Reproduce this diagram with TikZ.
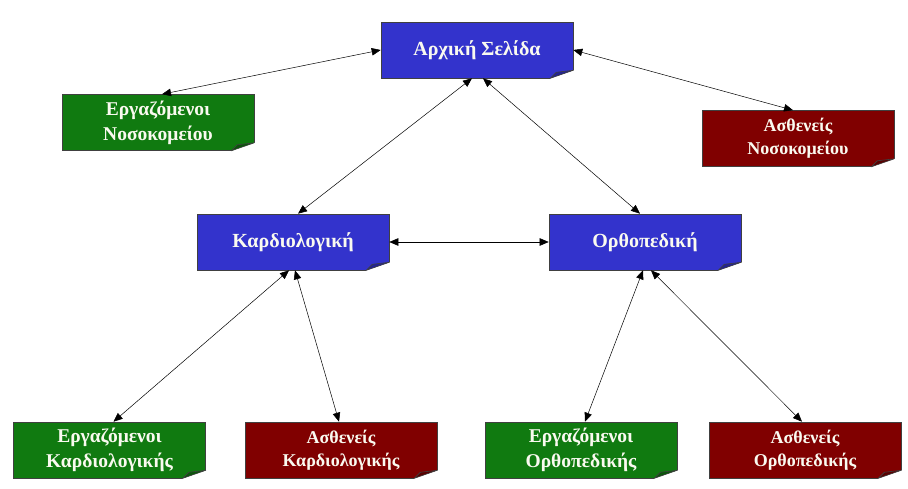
\documentclass[tikz,border=0pt]{standalone}
\usepackage{fontspec}
\setmainfont{Liberation Serif}
\usetikzlibrary{arrows.meta,calc}

\definecolor{pagina}{RGB}{51,51,204}
\definecolor{personale}{RGB}{16,122,16}
\definecolor{pazienti}{RGB}{128,0,0}
\definecolor{testo}{RGB}{250,250,240}

\begin{document}
\begin{tikzpicture}[x=1pt, y=-1pt,
    box/.style={draw=black!75, line width=0.6pt, minimum width=192pt, minimum height=56pt,
        inner sep=2pt, align=center, text=testo},
    main/.style={box, fill=pagina, font=\bfseries\fontsize{20}{24}\selectfont},
    staff/.style={box, fill=personale, font=\bfseries\fontsize{19.5}{25}\selectfont},
    patient/.style={box, fill=pazienti, font=\bfseries\fontsize{18}{23}\selectfont},
    link/.style={<->, >={Triangle[length=9pt,width=7.5pt]}, line width=0.5pt}]

    \useasboundingbox (0,0) rectangle (908,489);

    % Riquadri
    \node[main]    (home)       at (477,50)    {Αρχική Σελίδα};
    \node[staff]   (staffhosp)  at (158,122.5) {Εργαζόμενοι\\Νοσοκομείου};
    \node[patient] (pathosp)    at (798,138.5) {Ασθενείς\\Νοσοκομείου};
    \node[main]    (cardio)     at (293,242)   {Καρδιολογική};
    \node[main]    (ortho)      at (645,242)   {Ορθοπεδική};
    \node[staff]   (staffcard)  at (109.5,450) {Εργαζόμενοι\\Καρδιολογικής};
    \node[patient] (patcard)    at (341,450)   {Ασθενείς\\Καρδιολογικής};
    \node[staff]   (staffortho) at (581,450)   {Εργαζόμενοι\\Ορθοπεδικής};
    \node[patient] (patortho)   at (805,450)   {Ασθενείς\\Ορθοπεδικής};

    % Angoli piegati
    \foreach \n/\c in {home/pagina, staffhosp/personale, pathosp/pazienti,
                       cardio/pagina, ortho/pagina, staffcard/personale,
                       patcard/pazienti, staffortho/personale, patortho/pazienti} {
        \fill[white] ($(\n.south east)+(-23,0)$) -- ($(\n.south east)+(-23,0.8)$)
            -- ($(\n.south east)+(0.8,0.8)$) -- ($(\n.south east)+(0.8,-8)$)
            -- ($(\n.south east)+(0,-8)$) -- cycle;
        \filldraw[fill=\c!70!black, draw=black!75, line width=0.6pt, line join=round]
            ($(\n.south east)+(-23,0)$) -- ($(\n.south east)+(-17,-6)$)
            -- ($(\n.south east)+(0,-8)$) -- cycle;
    }

    % Frecce
    \draw[link] (home.west) -- ([xshift=4pt]staffhosp.north);
    \draw[link] (home.east) -- ([xshift=-5pt]pathosp.north);
    \draw[link] ([xshift=-5pt]home.south) -- ([xshift=5pt]cardio.north);
    \draw[link] ([xshift=6pt]home.south) -- ([xshift=-5pt]ortho.north);
    \draw[link] (cardio.east) -- (ortho.west);
    \draw[link] ([xshift=-4pt]cardio.south) -- ([xshift=4pt]staffcard.north);
    \draw[link] ([xshift=2pt]cardio.south) -- ([xshift=-2pt]patcard.north);
    \draw[link] ([xshift=-2pt]ortho.south) -- ([xshift=4pt]staffortho.north);
    \draw[link] ([xshift=6pt]ortho.south) -- ([xshift=-3pt]patortho.north);
\end{tikzpicture}
\end{document}
